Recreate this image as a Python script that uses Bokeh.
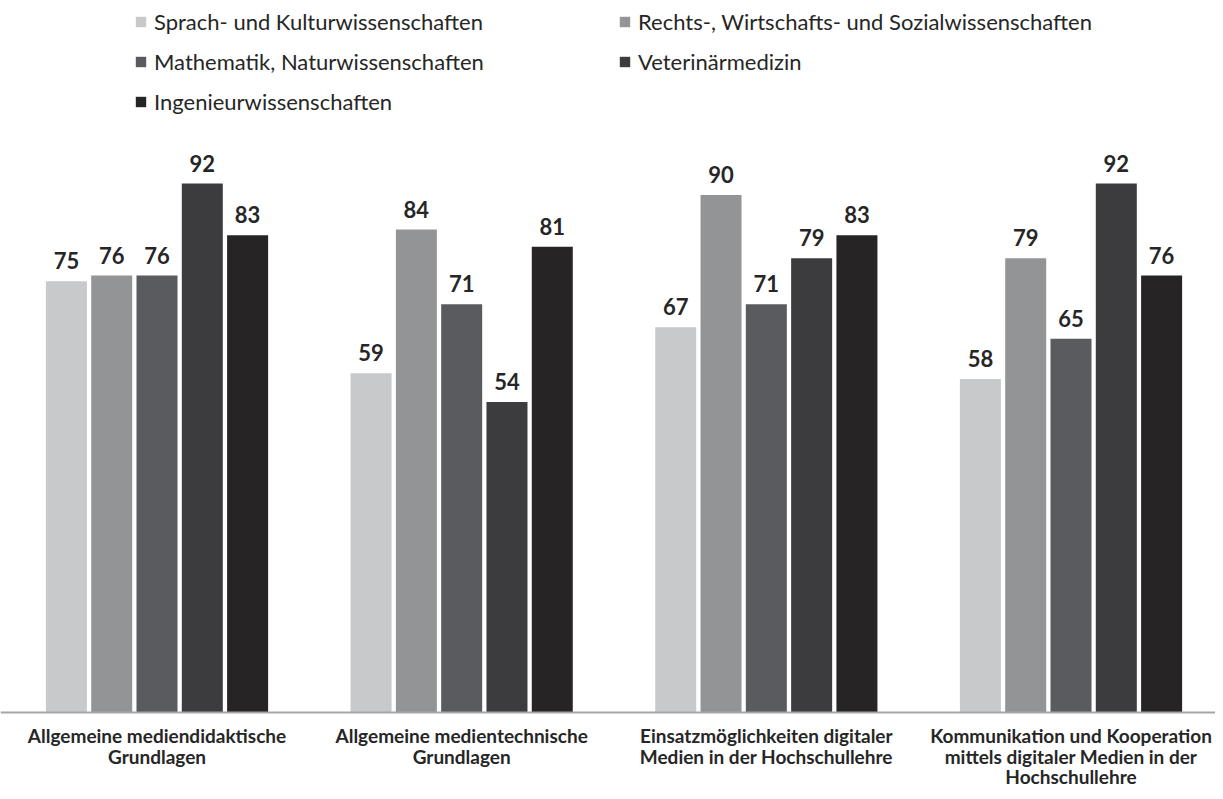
from bokeh.plotting import figure
from bokeh.models import ColumnDataSource, Legend, LegendItem, Range1d, LabelSet, Span
from bokeh.core.properties import value
from bokeh.embed import file_html
from bokeh.resources import INLINE

categories = [
    "Allgemeine mediendidaktische\nGrundlagen",
    "Allgemeine medientechnische\nGrundlagen",
    "Einsatzmöglichkeiten digitaler\nMedien in der Hochschullehre",
    "Kommunikation und Kooperation\nmittels digitaler Medien in der\nHochschullehre",
]
series_names = [
    "Sprach- und Kulturwissenschaften",
    "Rechts-, Wirtschafts- und Sozialwissenschaften",
    "Mathematik, Naturwissenschaften",
    "Veterinärmedizin",
    "Ingenieurwissenschaften",
]
sprach = [75, 59, 67, 58]
rechts = [76, 84, 90, 79]
mathe = [76, 71, 71, 65]
vet = [92, 54, 79, 92]
ing = [83, 81, 83, 76]
series_values = [sprach, rechts, mathe, vet, ing]
colors = ["#c8c9cb", "#939496", "#5a5b5f", "#3c3c3e", "#262425"]

FONT = "Lato"
W, H = 1215, 791
p = figure(width=W, height=H, output_backend="svg", toolbar_location=None,
           x_range=Range1d(-0.5137, 3.4743), y_range=Range1d(-13.74, 123.83),
           min_border=0)
p.outline_line_color = None
p.grid.grid_line_color = None
p.xaxis.visible = False
p.yaxis.visible = False

pitch = 0.1487
bw = 0.1346
items = []
for i, (name, vals, col) in enumerate(zip(series_names, series_values, colors)):
    xs = [c + (i - 2) * pitch for c in range(len(categories))]
    src = ColumnDataSource(dict(x=xs, top=vals, lab=[str(v) for v in vals]))
    r = p.vbar(x="x", top="top", width=bw, source=src, fill_color=col, line_color=None)
    items.append(LegendItem(label=name, renderers=[r]))
    p.add_layout(LabelSet(x="x", y="top", text="lab", source=src, text_align="center",
                          text_baseline="bottom", y_offset=12, text_font=value(FONT),
                          text_font_style="bold", text_font_size="22px", text_color="#262626"))

p.add_layout(Span(location=0, dimension="width", line_color="#a6a6a6", line_width=2))

# category labels, one centred label per line
line_offsets = [-31, -52, -72]
for k, off in enumerate(line_offsets):
    xs, ts = [], []
    for ci, cat in enumerate(categories):
        parts = cat.split("\n")
        if k < len(parts):
            xs.append(ci)
            ts.append(parts[k])
    csrc = ColumnDataSource(dict(x=xs, y=[0] * len(xs), t=ts))
    p.add_layout(LabelSet(x="x", y="y", text="t", source=csrc, text_align="center",
                          text_baseline="alphabetic", y_offset=off, text_font=value(FONT),
                          text_font_style="bold", text_font_size="19px", text_color="#262626"))

legend = Legend(items=items, orientation="horizontal", ncols=2, location=(134, 676),
                glyph_width=13, glyph_height=13, label_height=26, spacing=13,
                label_standoff=7, label_width=451, padding=0, margin=0,
                border_line_color=None, background_fill_alpha=0,
                label_text_font=FONT, label_text_font_size="22px", label_text_color="#262626")
p.add_layout(legend, "center")

open("out.html", "w").write(file_html(p, INLINE))
